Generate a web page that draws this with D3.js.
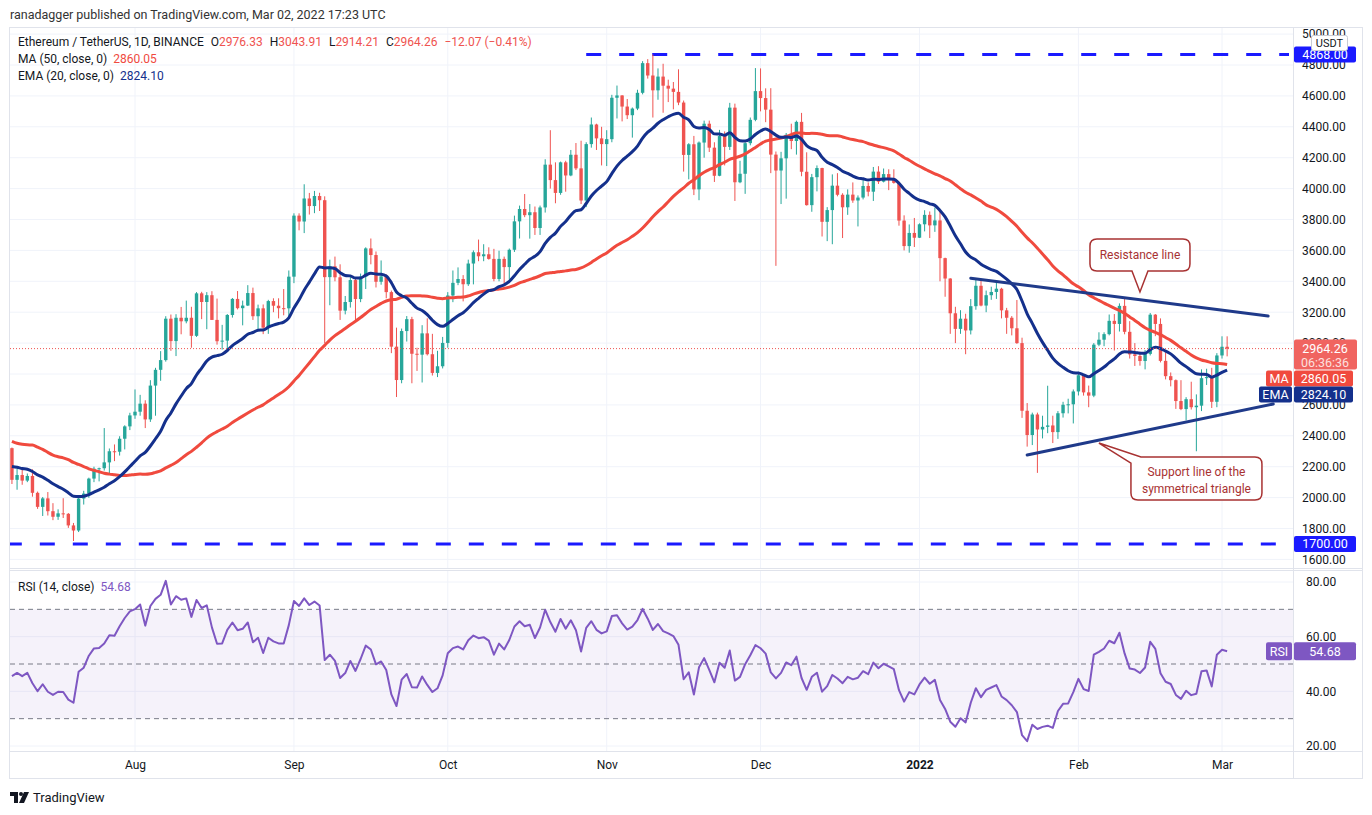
<!DOCTYPE html>
<html>
<head>
<meta charset="utf-8">
<script src="https://d3js.org/d3.v7.min.js"></script>
<style>
  body { margin: 0; background: #fff; }
  svg text { font-family: Roboto, "Liberation Sans", sans-serif; }
</style>
</head>
<body>
<svg id="chart" width="1372" height="815"></svg>
<script>
// ETH/USDT daily candles, 2021-07-08 .. 2022-03-02
const startDate = "2021-07-08";

const opens = [
  2320,2115,2146,2110,2140,2031,1940,1995,1912,1876,1898,1895,1820,1787,1994,2026,2123,2187,2190,2228,2300,2297,2381,2461,
  2532,2556,2608,2506,2725,2827,2890,3158,3013,3164,3141,3164,3047,3322,3266,3310,3150,3012,3016,3182,3286,3226,3243,3324,3174,3225,3100,3272,3242,3226,3225,
  3430,3825,3787,3936,3887,3952,3925,3427,3497,3426,3210,3266,3408,3285,3430,3613,3570,3397,3432,3330,2977,2761,3078,3155,2931,2925,3063,2928,2807,2850,
  3001,3308,3390,3415,3381,3515,3588,3562,3575,3545,3415,3545,3492,3604,3788,3868,3828,3847,3745,3878,4155,4055,3972,4170,4085,4219,4131,3923,4288,4415,4325,
  4288,4320,4588,4603,4531,4475,4518,4620,4812,4732,4636,4725,4666,4647,4626,4557,4218,4287,3995,4298,4420,4265,4083,4340,4270,4524,4041,4096,4294,4445,
  4631,4586,4511,4220,4117,4196,4348,4308,4432,4109,3893,4074,4133,3785,3861,4019,3960,3879,3961,3923,3942,4017,3980,4110,4045,4094,4066,4037,3793,3628,3713,
  3682,3769,3830,3762,3794,3550,3418,3193,3092,3158,3082,3239,3371,3243,3310,3331,3352,3212,3164,3096,3000,2562,2405,2538,2441,2458,2467,2424,2546,2601,2604,
  2687,2792,2681,2660,2990,3022,3058,3144,3124,3241,3073,2927,2917,2884,2930,3184,3124,2885,2786,2760,2625,2573,2637,2585,2595,2773,2780,2620,
  2920,2976.33
];
const highs = [
  2324,2187,2188,2156,2183,2039,2004,2036,1964,1924,1996,1900,1836,2016,2044,2129,2200,2194,2450,2318,2344,2397,2468,2549,
  2700,2665,2630,2760,2840,2948,3174,3185,3187,3234,3275,3235,3330,3332,3330,3336,3288,3118,3188,3292,3337,3275,3375,3359,3249,3250,3280,3290,3290,3350,3470,
  3840,3840,4028,3972,3985,3973,3950,3540,3560,3510,3305,3440,3420,3450,3620,3677,3593,3535,3445,3340,3100,3094,3175,3170,2970,3116,3160,3060,2950,3040,
  3330,3470,3490,3440,3540,3600,3670,3640,3620,3610,3598,3560,3612,3825,3890,3965,3900,3884,3890,4190,4378,4170,4175,4180,4250,4295,4310,4300,4460,4420,4400,
  4378,4607,4667,4605,4580,4525,4640,4825,4838,4868,4778,4808,4705,4690,4772,4570,4294,4341,4305,4440,4440,4300,4380,4370,4555,4550,4180,4300,4460,4780,
  4778,4649,4650,4240,4238,4360,4420,4440,4490,4235,4095,4150,4135,3880,4092,4100,3970,3995,4040,3956,4060,4040,4140,4145,4130,4125,4125,4040,3827,3768,3810,
  3775,3860,3852,3877,3849,3553,3420,3235,3213,3190,3285,3411,3413,3340,3365,3395,3358,3228,3175,3279,3035,2612,2550,2550,2530,2724,2530,2560,2620,2640,2700,
  2814,2800,2725,3000,3070,3070,3185,3188,3257,3285,3142,3000,2945,2955,3195,3188,3160,2940,2810,2765,2760,2650,2750,2668,2830,2834,2840,2935,
  3044,3043.91
];
const lows = [
  2088,2051,2083,2100,2006,1927,1881,1884,1854,1856,1868,1804,1719,1777,1955,1999,2100,2105,2175,2153,2236,2272,2312,2437,
  2510,2530,2450,2490,2530,2756,2880,2950,2916,3057,3128,2970,3040,3155,3090,3150,2990,2958,2960,3165,3218,3115,3240,3150,3080,3058,3060,3200,3160,3180,3160,
  3388,3730,3712,3832,3841,3855,3000,3245,3400,3150,3186,3230,3136,3265,3350,3510,3360,3378,3290,2935,2651,2740,3010,2740,2820,2745,2920,2790,2780,2836,
  2970,3265,3375,3270,3370,3380,3530,3530,3540,3400,3400,3386,3410,3590,3677,3815,3676,3700,3700,3845,4000,3905,3960,3980,4080,4120,3900,3880,4265,4250,4150,
  4146,4300,4454,4435,4450,4330,4508,4610,4712,4460,4575,4491,4560,4513,4540,4110,4060,3958,3925,4200,4237,4043,4080,4150,4250,3920,4035,3966,4280,4436,
  4500,4430,4100,3500,3900,3935,4255,4220,4080,3890,3850,3982,3690,3660,3640,3950,3680,3830,3908,3755,3930,3950,3920,4030,4040,3990,4032,3760,3600,3585,3622,
  3680,3723,3680,3720,3400,3300,3060,3000,3060,2928,3056,3216,3238,3200,3280,3286,3160,3060,3050,2995,2516,2330,2340,2160,2383,2417,2353,2380,2518,2545,2480,
  2661,2660,2585,2650,2980,2980,3050,2952,3075,3057,2900,2852,2854,2830,2920,3045,2875,2765,2720,2574,2566,2500,2570,2300,2560,2729,2580,2585,
  2900,2914.21
];
const closes = [
  2115,2146,2110,2140,2031,1940,1995,1912,1876,1898,1895,1820,1787,1994,2026,2123,2187,2190,2228,2300,2297,2381,2461,2532,
  2556,2608,2506,2725,2827,2890,3158,3013,3164,3141,3164,3047,3322,3266,3310,3150,3012,3016,3182,3286,3226,3243,3324,3174,3225,3100,3272,3242,3226,3225,3430,
  3825,3787,3936,3887,3952,3925,3427,3497,3426,3210,3266,3408,3285,3430,3613,3570,3397,3432,3330,2977,2761,3078,3155,2931,2925,3063,2928,2807,2850,3001,
  3308,3390,3415,3381,3515,3588,3562,3575,3545,3415,3545,3492,3604,3788,3868,3828,3847,3745,3878,4155,4055,3972,4170,4085,4219,4131,3923,4288,4415,4325,4288,
  4320,4588,4603,4531,4475,4518,4620,4812,4732,4636,4725,4666,4647,4626,4557,4218,4287,3995,4298,4420,4265,4083,4340,4270,4524,4041,4096,4294,4445,4631,
  4586,4511,4220,4117,4196,4348,4308,4432,4109,3893,4074,4133,3785,3861,4019,3960,3879,3961,3923,3942,4017,3980,4110,4045,4094,4066,4037,3793,3628,3713,3682,
  3769,3830,3762,3794,3550,3418,3193,3092,3158,3082,3239,3371,3243,3310,3331,3352,3212,3164,3096,3000,2562,2405,2538,2441,2458,2467,2424,2546,2601,2604,2687,
  2792,2681,2660,2990,3022,3058,3144,3124,3241,3073,2927,2917,2884,2930,3184,3124,2885,2786,2760,2625,2573,2637,2585,2595,2773,2780,2620,2920,
  2976.33,2964.26
];
// closes 2021-05-20 .. 2021-07-07, only needed so MA(50), EMA(20), RSI(14) have history
const priorCloses = [
  2780,2430,2300,2100,2640,2710,2890,2740,2420,2280,2390,2710,
  2630,2710,2855,2690,2630,2710,2590,2515,2610,2470,2360,2370,2510,2580,2555,2365,2375,2230,2175,2250,1890,1875,1970,1990,1830,1815,1975,2085,2160,2275,
  2110,2150,2225,2325,2200,2325,2320
];

const priceTicks = [1600,1800,2000,2200,2400,2600,2800,3000,3200,3400,3600,3800,4000,4200,4400,4600,4800,5000];
// 2800.00 sits completely under the MA / EMA tags, so it gets no label
const priceLabels = [1600,1800,2000,2200,2400,2600,3000,3200,3400,3600,3800,4000,4200,4400,4600,4800,5000];
const rsiTicks = [20, 40, 60, 80];
const rsiLevels = [70, 50, 30];
const monthTicks = ["2021-08-01","2021-09-01","2021-10-01","2021-11-01","2021-12-01","2022-01-01","2022-02-01","2022-03-01"];
const monthLabels = ["Aug","Sep","Oct","Nov","Dec","2022","Feb","Mar"];

const levels = [4868, 1700];
const levelStarts = ["2021-10-28", "2021-07-07"];
const resistanceLine = [["2022-01-11", 3420], ["2022-03-10", 3175]];
const supportLine = [["2022-01-22", 2276], ["2022-03-11", 2606]];
const resistanceTip = ["2022-02-13", 3331];
const supportTip = ["2022-02-05", 2353];

const lastPrice = 2964.26, lastMA = "2860.05", lastEMA = "2824.10", lastRSI = "54.68";

// colours
const up = "#26a69a", down = "#ef5350";
const maColor = "#f04a3e", emaColor = "#14308c", rsiColor = "#7e57c2";
const levelColor = "#1a1aff", lineColor = "#1f3a8a", noteColor = "#a83232";
const gridColor = "#f0f3fa", borderColor = "#e0e3eb", textColor = "#131722";

const svg = d3.select("#chart");
const paneLeft = 10, paneRight = 1293, axisRight = 1362;
const mainTop = 28, mainBottom = 568, rsiTop = 570, rsiBottom = 751, frameBottom = 778;

const parse = d3.utcParse("%Y-%m-%d");
const dates = closes.map((c, i) => d3.utcDay.offset(parse(startDate), i));

const x = d3.scaleUtc().domain([parse("2021-08-01"), parse("2022-03-01")]).range([135, 1222]);
const y = d3.scaleLinear().domain([1600, 5000]).range([559.4, 34.1]);
const yr = d3.scaleLinear().domain([20, 80]).range([746, 582]);

// indicators from the closes
const all = priorCloses.concat(closes);
const off = priorCloses.length;
const ma = closes.map((c, i) => d3.mean(all.slice(i + off - 49, i + off + 1)));

let e = d3.mean(all.slice(0, 20));
const emaAll = all.map((c, k) => { if (k >= 20) e = e + (c - e) * 2 / 21; return e; });
const ema = emaAll.slice(off);

let ag = 0, al = 0;
const rsiAll = [50];
for (let k = 1; k < all.length; k++) {
  const ch = all[k] - all[k - 1];
  const g = Math.max(ch, 0), l = Math.max(-ch, 0);
  if (k <= 14) { ag += g / 14; al += l / 14; }
  else { ag = (ag * 13 + g) / 14; al = (al * 13 + l) / 14; }
  rsiAll.push(100 - 100 / (1 + ag / al));
}
const rsi = rsiAll.slice(off);

svg.append("rect").attr("width", 1372).attr("height", 815).attr("fill", "#fff");

const defs = svg.append("defs");
defs.append("clipPath").attr("id", "mainClip").append("rect")
  .attr("x", paneLeft).attr("y", mainTop).attr("width", paneRight - paneLeft).attr("height", mainBottom - mainTop);
defs.append("clipPath").attr("id", "rsiClip").append("rect")
  .attr("x", paneLeft).attr("y", rsiTop).attr("width", paneRight - paneLeft).attr("height", rsiBottom - rsiTop);

// header
svg.append("text").attr("x", 10).attr("y", 19).attr("font-size", 12.5).attr("fill", "#333")
  .text("ranadagger published on TradingView.com, Mar 02, 2022 17:23 UTC");

// grid
const grid = svg.append("g");
grid.selectAll(".hg").data(priceTicks).join("line")
  .attr("x1", paneLeft).attr("x2", paneRight).attr("y1", d => y(d)).attr("y2", d => y(d))
  .attr("stroke", gridColor);
grid.selectAll(".rg").data(rsiTicks).join("line")
  .attr("x1", paneLeft).attr("x2", paneRight).attr("y1", d => yr(d)).attr("y2", d => yr(d))
  .attr("stroke", gridColor);
monthTicks.forEach(m => {
  const mx = x(parse(m));
  grid.append("line").attr("x1", mx).attr("x2", mx).attr("y1", mainTop).attr("y2", mainBottom).attr("stroke", gridColor);
  grid.append("line").attr("x1", mx).attr("x2", mx).attr("y1", rsiTop).attr("y2", rsiBottom).attr("stroke", gridColor);
});

// frame
const frame = svg.append("g").attr("stroke", borderColor).attr("fill", "none");
frame.append("rect").attr("x", paneLeft - 0.5).attr("y", mainTop - 0.5)
  .attr("width", axisRight - paneLeft + 1).attr("height", frameBottom - mainTop + 1);
frame.append("line").attr("x1", paneRight + 0.5).attr("x2", paneRight + 0.5).attr("y1", mainTop).attr("y2", frameBottom);
frame.append("line").attr("x1", paneLeft).attr("x2", axisRight).attr("y1", mainBottom + 0.5).attr("y2", mainBottom + 0.5);
frame.append("line").attr("x1", paneLeft).attr("x2", axisRight).attr("y1", rsiTop + 0.5).attr("y2", rsiTop + 0.5);
frame.append("line").attr("x1", paneLeft).attr("x2", axisRight).attr("y1", rsiBottom + 0.5).attr("y2", rsiBottom + 0.5);

// main pane
const main = svg.append("g").attr("clip-path", "url(#mainClip)");

main.selectAll(".lvl").data(levels).join("line")
  .attr("x1", (d, i) => x(parse(levelStarts[i]))).attr("x2", paneRight - 4)
  .attr("y1", d => y(d)).attr("y2", d => y(d))
  .attr("stroke", levelColor).attr("stroke-width", 3).attr("stroke-dasharray", "15,18");

const candles = main.append("g");
closes.forEach((c, i) => {
  const cx = x(dates[i]);
  const col = c >= opens[i] ? up : down;
  candles.append("line").attr("x1", cx).attr("x2", cx)
    .attr("y1", y(highs[i])).attr("y2", y(lows[i])).attr("stroke", col).attr("stroke-width", 1);
  const top = y(Math.max(opens[i], c)), bot = y(Math.min(opens[i], c));
  candles.append("rect").attr("x", cx - 1.7).attr("width", 3.4)
    .attr("y", top).attr("height", Math.max(bot - top, 1)).attr("fill", col);
});

const priceLine = d3.line().x((d, i) => x(dates[i])).y(d => y(d)).curve(d3.curveMonotoneX);
main.append("path").datum(ma).attr("d", priceLine).attr("fill", "none")
  .attr("stroke", maColor).attr("stroke-width", 3).attr("stroke-linejoin", "round");
main.append("path").datum(ema).attr("d", priceLine).attr("fill", "none")
  .attr("stroke", emaColor).attr("stroke-width", 3).attr("stroke-linejoin", "round");

main.append("line").attr("x1", paneLeft).attr("x2", paneRight)
  .attr("y1", y(lastPrice)).attr("y2", y(lastPrice))
  .attr("stroke", down).attr("stroke-dasharray", "1,2");

[resistanceLine, supportLine].forEach(tl => {
  main.append("line")
    .attr("x1", x(parse(tl[0][0]))).attr("y1", y(tl[0][1]))
    .attr("x2", x(parse(tl[1][0]))).attr("y2", y(tl[1][1]))
    .attr("stroke", lineColor).attr("stroke-width", 3).attr("stroke-linecap", "round");
});

// callouts
const notes = svg.append("g");
{
  const tx = x(parse(resistanceTip[0])), ty = y(resistanceTip[1]);
  const L = tx - 50, R = tx + 50, T = ty - 53, B = ty - 21, r = 7;
  notes.append("path")
    .attr("d", `M${L + r},${T} H${R - r} Q${R},${T} ${R},${T + r} V${B - r} Q${R},${B} ${R - r},${B}
      H${tx + 8} L${tx},${ty} L${tx - 8},${B} H${L + r} Q${L},${B} ${L},${B - r} V${T + r} Q${L},${T} ${L + r},${T} Z`)
    .attr("fill", "#fff").attr("stroke", noteColor).attr("stroke-width", 1.5);
  notes.append("text").attr("x", tx).attr("y", T + 20).attr("text-anchor", "middle")
    .attr("font-size", 12).attr("fill", noteColor).text("Resistance line");
}
{
  const tx = x(parse(supportTip[0])), ty = y(supportTip[1]);
  const L = tx + 32, R = tx + 163, T = ty + 14, B = ty + 57, r = 7;
  notes.append("path")
    .attr("d", `M${L},${T + 6} L${tx},${ty} L${L + 10},${T} H${R - r} Q${R},${T} ${R},${T + r} V${B - r}
      Q${R},${B} ${R - r},${B} H${L + r} Q${L},${B} ${L},${B - r} Z`)
    .attr("fill", "#fff").attr("stroke", noteColor).attr("stroke-width", 1.5);
  const t = notes.append("text").attr("text-anchor", "middle").attr("font-size", 12).attr("fill", noteColor);
  t.append("tspan").attr("x", (L + R) / 2).attr("y", T + 19).text("Support line of the");
  t.append("tspan").attr("x", (L + R) / 2).attr("y", T + 36).text("symmetrical triangle");
}

// RSI pane
const rsiG = svg.append("g").attr("clip-path", "url(#rsiClip)");
rsiG.append("rect").attr("x", paneLeft).attr("width", paneRight - paneLeft)
  .attr("y", yr(70)).attr("height", yr(30) - yr(70)).attr("fill", rsiColor).attr("fill-opacity", 0.08);
rsiG.selectAll(".lv").data(rsiLevels).join("line")
  .attr("x1", paneLeft).attr("x2", paneRight).attr("y1", d => yr(d)).attr("y2", d => yr(d))
  .attr("stroke", "#787b86").attr("stroke-dasharray", "5,4");
rsiG.append("path").datum(rsi)
  .attr("d", d3.line().x((d, i) => x(dates[i])).y(d => yr(d)))
  .attr("fill", "none").attr("stroke", rsiColor).attr("stroke-width", 2).attr("stroke-linejoin", "round");

// axes
const priceAxis = d3.axisRight(y).tickValues(priceLabels).tickFormat(d3.format(".2f")).tickSize(0).tickPadding(9);
svg.append("g").attr("transform", `translate(${paneRight},0)`).call(priceAxis)
  .call(g => g.select(".domain").remove())
  .call(g => g.selectAll("text").attr("font-size", 12).attr("fill", textColor).attr("font-family", null));

const rsiAxis = d3.axisRight(yr).tickValues(rsiTicks).tickFormat(d3.format(".2f")).tickSize(0).tickPadding(13);
svg.append("g").attr("transform", `translate(${paneRight},0)`).call(rsiAxis)
  .call(g => g.select(".domain").remove())
  .call(g => g.selectAll("text").attr("font-size", 12).attr("fill", textColor).attr("font-family", null));

const timeAxis = d3.axisBottom(x).tickValues(monthTicks.map(parse))
  .tickFormat((d, i) => monthLabels[i]).tickSize(0).tickPadding(9);
svg.append("g").attr("transform", `translate(0,${rsiBottom})`).call(timeAxis)
  .call(g => g.select(".domain").remove())
  .call(g => g.selectAll("text").attr("font-size", 12).attr("fill", textColor).attr("font-family", null)
    .attr("font-weight", (d, i) => monthLabels[i] === "2022" ? "bold" : null));

// axis label boxes
function tag(x0, x1, yc, h, fill, label) {
  svg.append("rect").attr("x", x0).attr("y", yc - h / 2).attr("width", x1 - x0).attr("height", h)
    .attr("rx", 2).attr("fill", fill);
  svg.append("text").attr("x", (x0 + x1) / 2).attr("y", yc + 4.5).attr("text-anchor", "middle")
    .attr("font-size", 12.5).attr("fill", "#fff").text(label);
}
levels.forEach(v => tag(paneRight + 1, 1356, y(v), 16, levelColor, d3.format(".2f")(v)));

svg.append("rect").attr("x", paneRight + 1).attr("y", y(lastPrice) - 9).attr("width", 63).attr("height", 30)
  .attr("rx", 2).attr("fill", "#f06460");
svg.append("text").attr("x", 1325).attr("y", y(lastPrice) + 4).attr("text-anchor", "middle")
  .attr("font-size", 12.5).attr("fill", "#fff").text(d3.format(".2f")(lastPrice));
svg.append("text").attr("x", 1325).attr("y", y(lastPrice) + 18).attr("text-anchor", "middle")
  .attr("font-size", 12.5).attr("fill", "#fde0df").text("06:36:36");

const maY = y(lastPrice) + 30, emaY = maY + 16;
tag(1266, paneRight - 1, maY, 16, maColor, "MA");
tag(paneRight + 1, 1353, maY, 16, maColor, lastMA);
tag(1259, paneRight - 1, emaY, 16, emaColor, "EMA");
tag(paneRight + 1, 1353, emaY, 16, emaColor, lastEMA);
tag(1266, paneRight - 1, yr(+lastRSI), 18, rsiColor, "RSI");
tag(paneRight + 1, 1356, yr(+lastRSI), 18, rsiColor, lastRSI);

svg.append("rect").attr("x", 1311.5).attr("y", 35.5).attr("width", 36).attr("height", 15)
  .attr("rx", 2).attr("fill", "#fff").attr("stroke", "#c8cbd3");
svg.append("text").attr("x", 1329.5).attr("y", 47).attr("text-anchor", "middle")
  .attr("font-size", 11).attr("fill", textColor).text("USDT");

// legends
const leg = svg.append("g").attr("font-size", 12).attr("fill", textColor);
const l1 = leg.append("text").attr("x", 18).attr("y", 46);
l1.append("tspan").text("Ethereum / TetherUS, 1D, BINANCE");
[["O", "2976.33"], ["H", "3043.91"], ["L", "2914.21"], ["C", "2964.26"]].forEach(p => {
  l1.append("tspan").attr("dx", 7).text(p[0]);
  l1.append("tspan").attr("fill", down).text(p[1]);
});
l1.append("tspan").attr("dx", 7).attr("fill", down).text("\u221212.07 (\u22120.41%)");

const l2 = leg.append("text").attr("x", 18).attr("y", 63);
l2.append("tspan").text("MA (50, close, 0)");
l2.append("tspan").attr("dx", 6).attr("fill", maColor).text(lastMA);
const l3 = leg.append("text").attr("x", 18).attr("y", 80);
l3.append("tspan").text("EMA (20, close, 0)");
l3.append("tspan").attr("dx", 6).attr("fill", emaColor).text(lastEMA);
const l4 = leg.append("text").attr("x", 18).attr("y", 591);
l4.append("tspan").text("RSI (14, close)");
l4.append("tspan").attr("dx", 6).attr("fill", rsiColor).text(lastRSI);

// footer logo
const logo = svg.append("g").attr("fill", textColor);
logo.append("path").attr("d", "M10,792 H18 V803 H14 V796 H10 Z");
logo.append("circle").attr("cx", 21).attr("cy", 794).attr("r", 2);
logo.append("path").attr("d", "M24,792 H29 L24,803 H19 Z");
logo.append("text").attr("x", 33).attr("y", 802).attr("font-size", 13).text("TradingView");
</script>
</body>
</html>
